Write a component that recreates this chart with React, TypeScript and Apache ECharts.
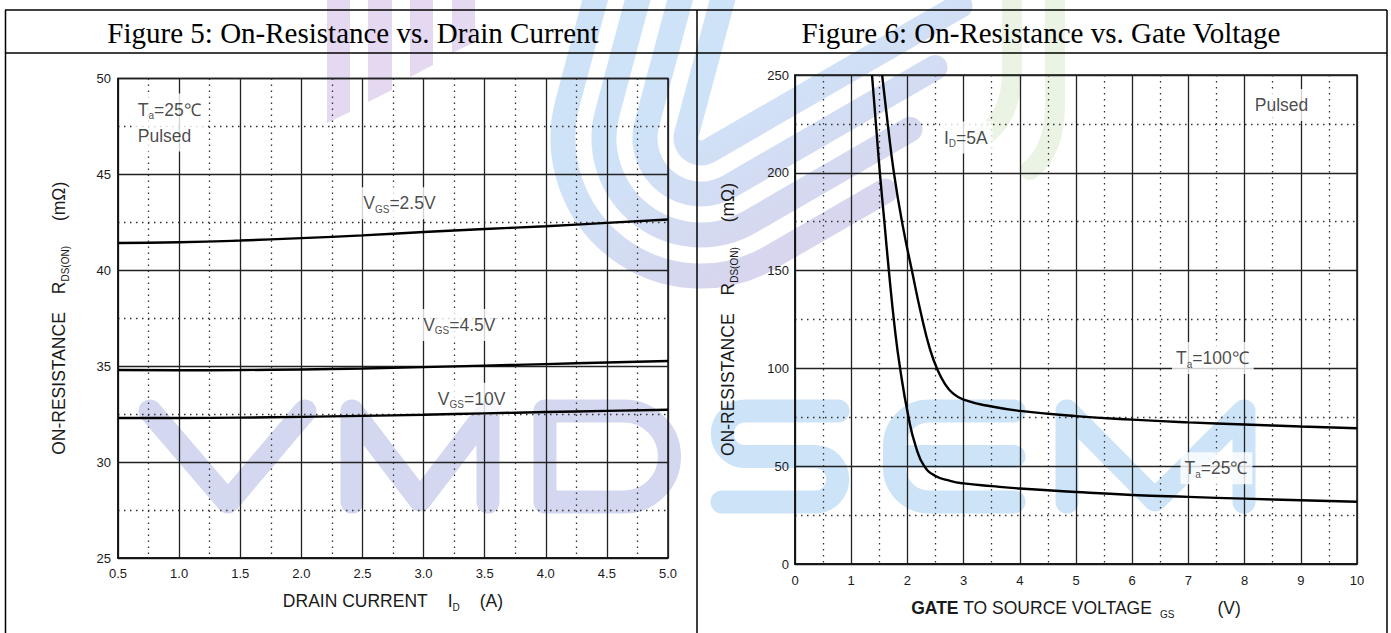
import React, { useEffect, useRef } from 'react';
import * as echarts from 'echarts';

// ---------- data ----------
const fig5Current = [0.5, 1.0, 1.5, 2.0, 2.5, 3.0, 3.5, 4.0, 4.5, 5.0];
const fig5Vgs25 = [41.42, 41.46, 41.55, 41.68, 41.82, 42.0, 42.15, 42.3, 42.47, 42.65];
const fig5Vgs45 = [34.8, 34.79, 34.8, 34.83, 34.88, 34.95, 35.03, 35.11, 35.19, 35.27];
const fig5Vgs10 = [32.3, 32.3, 32.32, 32.36, 32.41, 32.47, 32.54, 32.61, 32.67, 32.73];

const fig6Vgs25C = [1.37, 1.44, 1.51, 1.59, 1.67, 1.77, 1.87, 2.02, 2.15, 2.3, 2.5, 2.76, 3, 3.5, 4, 5, 6, 7, 8, 9, 10];
const fig6R25C = [250, 225, 200, 175, 150, 122, 100, 75, 60, 50, 45, 42.5, 41.2, 39.8, 38.6, 36.8, 35.3, 34.3, 33.4, 32.6, 31.8];
const fig6Vgs100C = [1.55, 1.65, 1.76, 1.91, 2.08, 2.25, 2.4, 2.54, 2.67, 2.8, 3, 3.5, 4, 5, 6, 7, 8, 9, 10];
const fig6R100C = [250, 225, 200, 174, 150, 127, 110, 99, 92, 87.5, 84, 80.5, 78.3, 75.6, 73.8, 72.4, 71.3, 70.3, 69.4];

const fig5Notes = ['{n|T}{s|a}{n|=25℃}\n{n|Pulsed}', '{n|V}{s|GS}{n|=2.5V}', '{n|V}{s|GS}{n|=4.5V}', '{n|V}{s|GS}{n|=10V}'];
const fig5NoteAt = [[0.625, 47.7], [2.47, 43.5], [2.96, 37.15], [3.08, 33.3]];
const fig6Notes = ['{n|I}{s|D}{n|=5A}', '{n|Pulsed}', '{n|T}{s|a}{n|=100℃}', '{n|T}{s|a}{n|=25℃}'];
const fig6NoteAt = [[2.57, 218], [8.1, 234.7], [6.7, 105.3], [6.85, 48.9]];

const titles = ['Figure 5: On-Resistance vs. Drain Current', 'Figure 6: On-Resistance vs. Gate Voltage'];

const F = '"Liberation Sans", Arial, sans-serif';
const INK = '#1a1a1a';

function zip(xs: number[], ys: number[]) {
  return xs.map((x, i) => [x, ys[i]]);
}

const rad = (d: number) => (d * Math.PI) / 180;
function bandPath(k: number) {
  const cx = 701, cy = 138;
  const r = 138 - 41 * k;
  const a0 = rad(195), a1 = rad(60);
  const p0x = cx + r * Math.cos(a0), p0y = cy + r * Math.sin(a0);
  const p1x = cx + r * Math.cos(a1), p1y = cy + r * Math.sin(a1);
  const t = (p0y + 25) / 0.966;
  const sx = p0x + 0.259 * t, sy = -25;
  const endX = 885 + 25 * k;
  const len = (endX - p1x) / 0.866;
  const ex = endX, ey = p1y - 0.5 * len;
  return `M ${sx} ${sy} L ${p0x} ${p0y} A ${r} ${r} 0 0 0 ${p1x} ${p1y} L ${ex} ${ey}`;
}

let registered = false;
function registerShapes() {
  if (registered) return;
  registered = true;
  for (let k = 0; k < 4; k++) {
    echarts.graphic.registerShape('band' + k, echarts.graphic.extendPath(bandPath(k), {}) as any);
  }
  const vmd =
    'M 150 411 L 228 502 L 305 411 ' +
    'M 352 502 L 352 411 L 420 500 L 488 411 L 488 502 ' +
    'M 545 411 L 624 411 A 45.5 45.5 0 0 1 624 502 L 545 502 Z';
  const semi =
    'M 838 411 L 745 411 A 22.75 22.75 0 0 0 745 456.5 L 815 456.5 A 22.75 22.75 0 0 1 815 502 L 722 502 ' +
    'M 1014 411 L 929 411 A 34.5 34.5 0 0 0 894.5 445.5 L 894.5 467.5 A 34.5 34.5 0 0 0 929 502 L 1014 502 ' +
    'M 894.5 456.5 L 1014 456.5 ' +
    'M 1067 502 L 1067 411 L 1155 500 L 1244 411 L 1244 502';
  const green =
    'M 1012 -20 L 1012 70 Q 1012 115 985 135 ' +
    'M 1055 -20 L 1055 105 Q 1055 150 1030 170';
  echarts.graphic.registerShape('wmVMD', echarts.graphic.extendPath(vmd, {}) as any);
  echarts.graphic.registerShape('wmSEMI', echarts.graphic.extendPath(semi, {}) as any);
  echarts.graphic.registerShape('wmGreen', echarts.graphic.extendPath(green, {}) as any);
}

const FS = 17.5;
const noteRich = {
  n: { fontFamily: F, fontSize: FS, color: INK, lineHeight: 26 },
  s: { fontFamily: F, fontSize: 10, color: INK, padding: [12, 0, 0, 0] },
};

function noteSeries(texts: string[], at: number[][], idx: number) {
  return {
    type: 'scatter',
    xAxisIndex: idx,
    yAxisIndex: idx,
    symbolSize: 1,
    itemStyle: { color: 'transparent' },
    silent: true,
    z: 3,
    data: texts.map((t, i) => ({
      value: at[i],
      label: {
        show: true,
        position: 'right',
        distance: 0,
        formatter: t,
        backgroundColor: '#ffffff',
        padding: [3, 5, 3, 4],
        rich: noteRich,
      },
    })),
  };
}

function curve(data: number[][], idx: number) {
  return {
    type: 'line',
    xAxisIndex: idx,
    yAxisIndex: idx,
    data,
    showSymbol: false,
    smooth: 0.5,
    z: 5,
    silent: true,
    lineStyle: { color: '#000', width: 2.4 },
  };
}

const gridLine = { color: '#222', width: 1.3 };
const dotLine = { color: '#333', width: 1.3, type: [1.5, 4.5] as any };
const tickLabel = { fontFamily: F, fontSize: 13, color: INK };
const nameStyle = {
  fontFamily: F,
  fontSize: FS,
  color: INK,
  rich: {
    n: { fontFamily: F, fontSize: FS, color: INK },
    b: { fontFamily: F, fontSize: FS, color: INK, fontWeight: 'bold' },
    s: { fontFamily: F, fontSize: 10, color: INK, padding: [12, 0, 0, 0] },
    g: { width: 20 },
    gy: { width: 18 },
    gy2: { width: 25 },
    g2: { width: 8 },
    g3: { width: 43 },
  },
};

function axisCommon() {
  return {
    type: 'value',
    axisLine: { show: true, lineStyle: { color: '#111', width: 1.5 } },
    axisTick: { show: false },
    splitLine: { show: true, lineStyle: gridLine },
    minorTick: { show: false, splitNumber: 2 },
    minorSplitLine: { show: true, lineStyle: dotLine },
    nameLocation: 'middle',
    nameTextStyle: nameStyle,
  };
}

export default function App() {
  const ref = useRef<HTMLDivElement>(null);
  useEffect(() => {
    if (!ref.current) return;
    registerShapes();
    const chart = echarts.init(ref.current, undefined, { renderer: 'svg' });
    const bandGrad = new echarts.graphic.LinearGradient(
      680, 120, 760, 260,
      [
        { offset: 0, color: '#cfe3f8' },
        { offset: 1, color: '#d7d6ee' },
      ],
      true
    );
    const bars = [
      [[327, -5], [350, -5], [350, 112], [327, 123]],
      [[368, -5], [392, -5], [392, 90], [368, 102]],
      [[410, -5], [433, -5], [433, 65], [410, 77]],
      [[452, -5], [475, -5], [475, 42], [452, 53]],
    ];
    const graphic: any[] = [];
    bars.forEach((pts) =>
      graphic.push({ type: 'polygon', z: -10, silent: true, shape: { points: pts }, style: { fill: '#e5d9f1' } })
    );
    for (let k = 0; k < 4; k++) {
      graphic.push({
        type: 'band' + k,
        z: -10,
        silent: true,
        style: { fill: 'none', stroke: bandGrad, lineWidth: 25, lineCap: 'round' },
      });
    }
    graphic.push({
      type: 'wmGreen', z: -10, silent: true,
      style: { fill: 'none', stroke: '#ebf4e4', lineWidth: 20, lineCap: 'round' },
    });
    graphic.push({
      type: 'wmVMD', z: -10, silent: true,
      style: { fill: 'none', stroke: '#d3d7ef', lineWidth: 23, lineCap: 'round', lineJoin: 'round' },
    });
    graphic.push({
      type: 'wmSEMI', z: -10, silent: true,
      style: { fill: 'none', stroke: '#cde3f8', lineWidth: 23, lineCap: 'round', lineJoin: 'round' },
    });
    // table lines
    const tl = { stroke: '#000', lineWidth: 1.5 };
    graphic.push({ type: 'line', z: 100, silent: true, shape: { x1: 5, y1: 10, x2: 1387, y2: 10 }, style: tl });
    graphic.push({ type: 'line', z: 100, silent: true, shape: { x1: 5, y1: 53, x2: 1387, y2: 53 }, style: tl });
    [5.5, 697, 1387].forEach((x) =>
      graphic.push({ type: 'line', z: 100, silent: true, shape: { x1: x, y1: 10, x2: x, y2: 640 }, style: tl })
    );
    const titleFont = '"Liberation Serif", "Times New Roman", serif';
    graphic.push({
      type: 'text', z: 100, silent: true, x: 353, y: 33,
      style: { text: titles[0], fontFamily: titleFont, fontSize: 29, fill: '#000', align: 'center', verticalAlign: 'middle' },
    });
    graphic.push({
      type: 'text', z: 100, silent: true, x: 1041, y: 33,
      style: { text: titles[1], fontFamily: titleFont, fontSize: 29, fill: '#000', align: 'center', verticalAlign: 'middle' },
    });

    const option: any = {
      animation: false,
      grid: [
        { left: 118, top: 78.5, width: 550, height: 479.5, show: true, borderColor: '#111', borderWidth: 1.5, backgroundColor: 'transparent' },
        { left: 795, top: 75, width: 562, height: 489, show: true, borderColor: '#111', borderWidth: 1.5, backgroundColor: 'transparent' },
      ],
      xAxis: [
        {
          ...axisCommon(),
          gridIndex: 0, min: 0.5, max: 5, interval: 0.5,
          axisLabel: { ...tickLabel, margin: 9, formatter: (v: number) => v.toFixed(1) },
          name: '{n|DRAIN CURRENT}{g| }{n|I}{s|D}{g| }{n|(A)}',
          nameGap: 32,
        },
        {
          ...axisCommon(),
          gridIndex: 1, min: 0, max: 10, interval: 1,
          axisLabel: { ...tickLabel, margin: 10 },
          name: '{b|GATE}{n| TO SOURCE VOLTAGE}{g2| }{s|GS}{g3| }{n|(V)}',
          nameGap: 33,
        },
      ],
      yAxis: [
        {
          ...axisCommon(),
          gridIndex: 0, min: 25, max: 50, interval: 5,
          axisLabel: { ...tickLabel, margin: 7 },
          name: '{n|ON-RESISTANCE}{gy| }{n|R}{s|DS(ON)}{gy2| }{n|(mΩ)}',
          nameGap: 48,
        },
        {
          ...axisCommon(),
          gridIndex: 1, min: 0, max: 250, interval: 50,
          axisLabel: { ...tickLabel, margin: 6 },
          name: '{n|ON-RESISTANCE}{gy| }{n|R}{s|DS(ON)}{gy2| }{n|(mΩ)}',
          nameGap: 56,
        },
      ],
      series: [
        curve(zip(fig5Current, fig5Vgs25), 0),
        curve(zip(fig5Current, fig5Vgs45), 0),
        curve(zip(fig5Current, fig5Vgs10), 0),
        curve(zip(fig6Vgs25C, fig6R25C), 1),
        curve(zip(fig6Vgs100C, fig6R100C), 1),
        noteSeries(fig5Notes, fig5NoteAt, 0),
        noteSeries(fig6Notes, fig6NoteAt, 1),
      ],
      graphic,
    };
    chart.setOption(option);
    return () => chart.dispose();
  }, []);
  return (
    <div
      ref={ref}
      style={{ position: 'fixed', left: 0, top: 0, width: 1391, height: 633, background: '#fff' }}
    />
  );
}
